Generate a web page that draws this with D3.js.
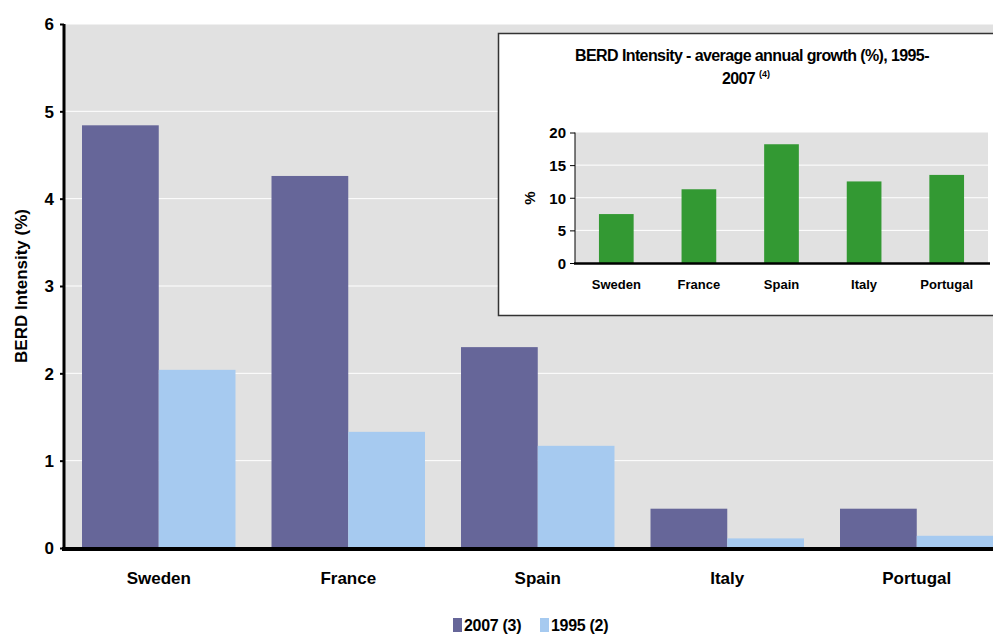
<!DOCTYPE html>
<html>
<head>
<meta charset="utf-8">
<script src="https://cdn.jsdelivr.net/npm/d3@7"></script>
<style>
  body { margin: 0; background: #fff; }
  svg text { font-family: "Liberation Sans", Arial, sans-serif; font-weight: bold; fill: #000; }
</style>
</head>
<body>
<div id="chart"></div>
<script>
// BERD intensity chart with inset

var countries = ["Sweden", "France", "Spain", "Italy", "Portugal"];
var series = ["2007 (3)", "1995 (2)"];
var values2007 = [4.84, 4.26, 2.30, 0.45, 0.45];
var values1995 = [2.04, 1.33, 1.17, 0.11, 0.14];
var growth = [7.5, 11.3, 18.2, 12.5, 13.5];
var yTicks = [0, 1, 2, 3, 4, 5, 6];
var insetTicks = [0, 5, 10, 15, 20];
var colors = ["#666699", "#a6caf0"];

var width = 993, height = 635;

var svg = d3.select("#chart").append("svg")
    .attr("width", width)
    .attr("height", height);

// main chart
var x0 = d3.scaleBand().domain(countries).range([64, 1011.5]).paddingInner(0.19).paddingOuter(0.095);
var x1 = d3.scaleBand().domain(series).range([0, x0.bandwidth()]);
var y = d3.scaleLinear().domain([0, 6]).range([548, 24]);

svg.append("rect")
    .attr("x", 64).attr("y", y(6))
    .attr("width", width - 64).attr("height", y(0) - y(6))
    .attr("fill", "#e1e1e1");

svg.append("g").selectAll("line")
    .data(yTicks.slice(1))
    .enter().append("line")
    .attr("x1", 64).attr("x2", width)
    .attr("y1", function(d) { return y(d); })
    .attr("y2", function(d) { return y(d); })
    .attr("stroke", "#fff").attr("stroke-width", 1);

var groups = svg.append("g").selectAll("g")
    .data(countries)
    .enter().append("g")
    .attr("transform", function(d) { return "translate(" + x0(d) + ",0)"; });

groups.selectAll("rect")
    .data(function(d, i) { return [values2007[i], values1995[i]]; })
    .enter().append("rect")
    .attr("x", function(d, j) { return x1(series[j]); })
    .attr("y", function(d) { return y(d); })
    .attr("width", x1.bandwidth())
    .attr("height", function(d) { return y(0) - y(d); })
    .attr("fill", function(d, j) { return colors[j]; });

var yAxis = svg.append("g")
    .attr("transform", "translate(64,0)")
    .call(d3.axisLeft(y).tickValues(yTicks).tickFormat(d3.format("d")).tickSize(4).tickPadding(6));
yAxis.select(".domain").attr("stroke", "#000").attr("stroke-width", 3).attr("d", "M0," + y(6) + "V" + y(0));
yAxis.selectAll(".tick line").attr("stroke", "#000").attr("stroke-width", 2);
yAxis.selectAll("text").style("font-size", "17px").attr("dy", "0.35em");

svg.append("line")
    .attr("x1", 62).attr("x2", width)
    .attr("y1", y(0) + 1).attr("y2", y(0) + 1)
    .attr("stroke", "#000").attr("stroke-width", 4);

svg.append("g").selectAll("text")
    .data(countries)
    .enter().append("text")
    .attr("x", function(d) { return x0(d) + x0.bandwidth() / 2; })
    .attr("y", 584)
    .attr("text-anchor", "middle")
    .style("font-size", "17px")
    .text(function(d) { return d; });

svg.append("text")
    .attr("transform", "translate(27," + y(3) + ") rotate(-90)")
    .attr("text-anchor", "middle")
    .style("font-size", "17px")
    .text("BERD Intensity (%)");

// legend
var legend = svg.append("g").attr("transform", "translate(453,616)");
var legendX = [0, 87];
series.forEach(function(s, i) {
  legend.append("rect").attr("x", legendX[i]).attr("y", 2).attr("width", 9).attr("height", 14).attr("fill", colors[i]);
  legend.append("text").attr("x", legendX[i] + 11).attr("y", 15).style("font-size", "16px").style("letter-spacing", "-0.3px").text(s);
});

// inset
var inset = svg.append("g");
inset.append("rect")
    .attr("x", 498.5).attr("y", 33.5)
    .attr("width", 520).attr("height", 282)
    .attr("fill", "#fff").attr("stroke", "#333").attr("stroke-width", 1.5);

var ix = d3.scaleBand().domain(countries).range([575, 988]).paddingInner(0.58).paddingOuter(0.29);
var iy = d3.scaleLinear().domain([0, 20]).range([263, 132.5]);

inset.append("rect")
    .attr("x", 575).attr("y", iy(20))
    .attr("width", 988 - 575).attr("height", iy(0) - iy(20))
    .attr("fill", "#e1e1e1");

inset.append("g").selectAll("line")
    .data(insetTicks.slice(1, -1))
    .enter().append("line")
    .attr("x1", 575).attr("x2", 988)
    .attr("y1", function(d) { return iy(d); })
    .attr("y2", function(d) { return iy(d); })
    .attr("stroke", "#fff");

inset.append("g").selectAll("rect")
    .data(growth)
    .enter().append("rect")
    .attr("x", function(d, i) { return ix(countries[i]); })
    .attr("y", function(d) { return iy(d); })
    .attr("width", ix.bandwidth())
    .attr("height", function(d) { return iy(0) - iy(d); })
    .attr("fill", "#339933");

var iyAxis = inset.append("g")
    .attr("transform", "translate(575,0)")
    .call(d3.axisLeft(iy).tickValues(insetTicks).tickSize(5).tickPadding(4));
iyAxis.select(".domain").attr("stroke", "#000").attr("stroke-width", 1).attr("d", "M0," + iy(20) + "V" + iy(0));
iyAxis.selectAll(".tick line").attr("stroke", "#000");
iyAxis.selectAll("text").style("font-size", "15px").attr("dy", "0.35em");

inset.append("line")
    .attr("x1", 574).attr("x2", 990)
    .attr("y1", iy(0) + 0.5).attr("y2", iy(0) + 0.5)
    .attr("stroke", "#000").attr("stroke-width", 2.5);

inset.append("g").selectAll("text")
    .data(countries)
    .enter().append("text")
    .attr("x", function(d) { return ix(d) + ix.bandwidth() / 2; })
    .attr("y", 289)
    .attr("text-anchor", "middle")
    .style("font-size", "13px")
    .text(function(d) { return d; });

inset.append("text")
    .attr("transform", "translate(535,198) rotate(-90)")
    .attr("text-anchor", "middle")
    .style("font-size", "15px")
    .text("%");

inset.append("text")
    .attr("x", 752).attr("y", 61)
    .attr("text-anchor", "middle")
    .style("font-size", "16px")
    .style("letter-spacing", "-0.6px")
    .text("BERD Intensity - average annual growth (%), 1995-");

var t2 = inset.append("text")
    .attr("x", 746).attr("y", 84)
    .attr("text-anchor", "middle")
    .style("font-size", "16px")
    .style("letter-spacing", "-0.6px");
t2.append("tspan").text("2007 ");
t2.append("tspan").attr("dy", -7).style("font-size", "9px").style("letter-spacing", "0px").text("(4)");
</script>
</body>
</html>
